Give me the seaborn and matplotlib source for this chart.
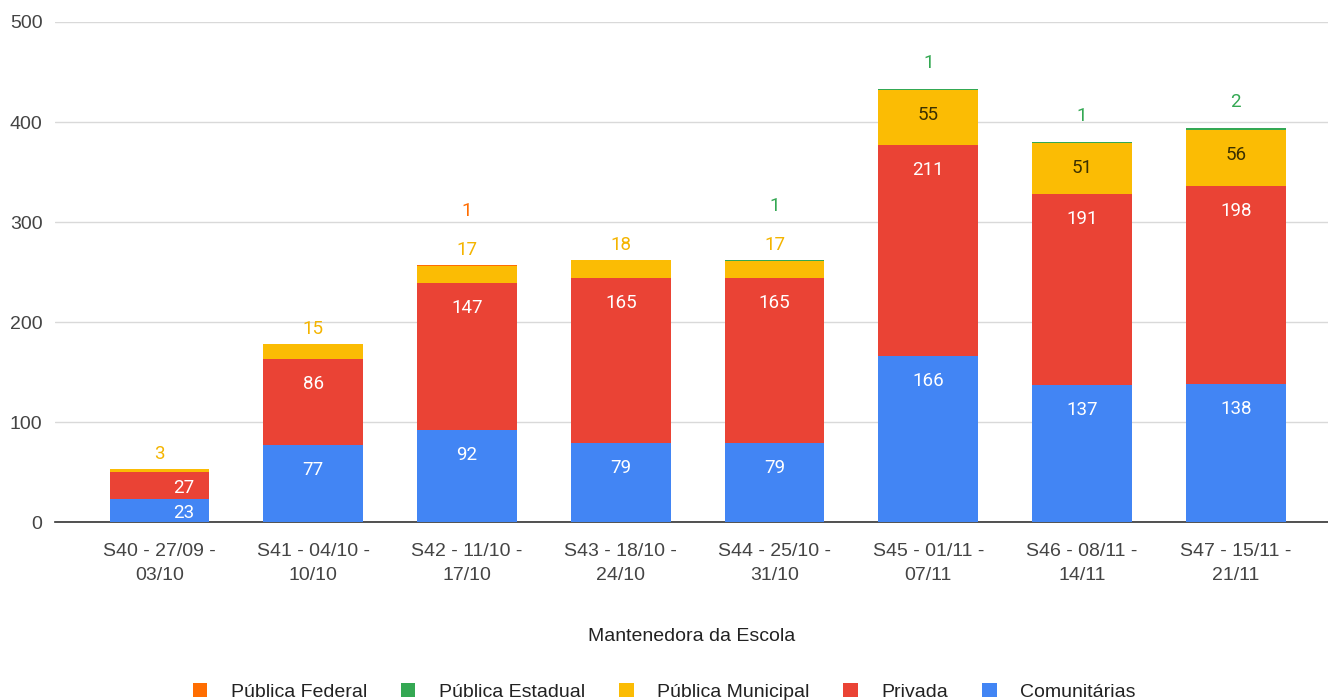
import numpy as np
import pandas as pd
import matplotlib
matplotlib.use("Agg")
import matplotlib.pyplot as plt
from matplotlib.patches import Patch
import seaborn as sns

# dados
semanas = ["S40 - 27/09 -\n03/10", "S41 - 04/10 -\n10/10", "S42 - 11/10 -\n17/10",
           "S43 - 18/10 -\n24/10", "S44 - 25/10 -\n31/10", "S45 - 01/11 -\n07/11",
           "S46 - 08/11 -\n14/11", "S47 - 15/11 -\n21/11"]
comunitarias = [23, 77, 92, 79, 79, 166, 137, 138]
privada = [27, 86, 147, 165, 165, 211, 191, 198]
publica_municipal = [3, 15, 17, 18, 17, 55, 51, 56]
publica_estadual = [0, 0, 0, 0, 1, 1, 1, 2]
publica_federal = [0, 0, 1, 0, 0, 0, 0, 0]

# ordem de empilhamento (de baixo para cima)
series = [
    ("Comunitárias", comunitarias, "#4285F4"),
    ("Privada", privada, "#EA4335"),
    ("Pública Municipal", publica_municipal, "#FBBC04"),
    ("Pública Estadual", publica_estadual, "#34A853"),
    ("Pública Federal", publica_federal, "#FF6D01"),
]

sns.set_theme(style="white")
plt.rcParams['font.family'] = ['Liberation Sans', 'DejaVu Sans']

df = pd.DataFrame({nome: vals for nome, vals, _ in series}, index=semanas)
cum = df.cumsum(axis=1)

fig = plt.figure(figsize=(13.28, 7), dpi=100)
ax = fig.add_axes([0.0414, 0.254, 0.9586, 0.7146])

# barras empilhadas: desenha o acumulado do topo para baixo
for nome, _, cor in reversed(series):
    sns.barplot(x=semanas, y=cum[nome].values, color=cor, saturation=1,
                width=0.65, linewidth=0, ax=ax, zorder=3)

# rótulos
lab_font = ['Roboto', 'DejaVu Sans']
for i in range(len(semanas)):
    base = 0
    topo = cum.iloc[i, -1]
    acima = 0
    for nome, vals, cor in series:
        v = vals[i]
        if v == 0:
            continue
        top = base + v
        if v >= 20:
            if v >= 50:
                y = top - 25
                x = i
            else:
                y = base + v / 2 - 2
                x = i + 0.16
            tc = "#3b3000" if nome == "Pública Municipal" else "white"
            ax.text(x, y, str(v), ha="center", va="center", fontsize=13.5,
                    color=tc, zorder=5, family=lab_font)
        else:
            tc = "#F4B400" if nome == "Pública Municipal" else cor
            if nome == "Pública Municipal":
                y = topo + 15
                acima = 1
            else:
                y = topo + (54 if acima else 26)
            ax.text(i, y, str(v), ha="center", va="center", fontsize=13.5,
                    color=tc, zorder=5, family=lab_font)
        base = top

ax.set_ylim(0, 500)
ax.set_xlim(-0.68, 7.6)
ax.set_yticks([0, 100, 200, 300, 400, 500])
ax.yaxis.grid(True, color="#d9d9d9", linewidth=1)
ax.set_axisbelow(True)
for s in ["top", "right", "left"]:
    ax.spines[s].set_visible(False)
ax.spines["bottom"].set_color("#333333")
ax.spines["bottom"].set_linewidth(1.2)
ax.tick_params(axis="both", length=0, labelsize=14, colors="#444444")
ax.tick_params(axis="x", pad=15)
ax.tick_params(axis="y", pad=9)
for t in ax.get_xticklabels():
    t.set_linespacing(1.5)
ax.set_xlabel("Mantenedora da Escola", fontsize=14, color="#222222", labelpad=32)
ax.set_ylabel("")

handles = [Patch(facecolor=c, edgecolor="none") for _, _, c in reversed(series)]
labels = [n for n, _, _ in reversed(series)]
fig.legend(handles, labels, loc="lower center", bbox_to_anchor=(0.5, -0.026), ncol=5,
           frameon=False, fontsize=14, handlelength=0.75, handleheight=0.75,
           columnspacing=1.75, handletextpad=1.2, labelcolor="#222222")

fig.savefig("out.png", dpi=100)
